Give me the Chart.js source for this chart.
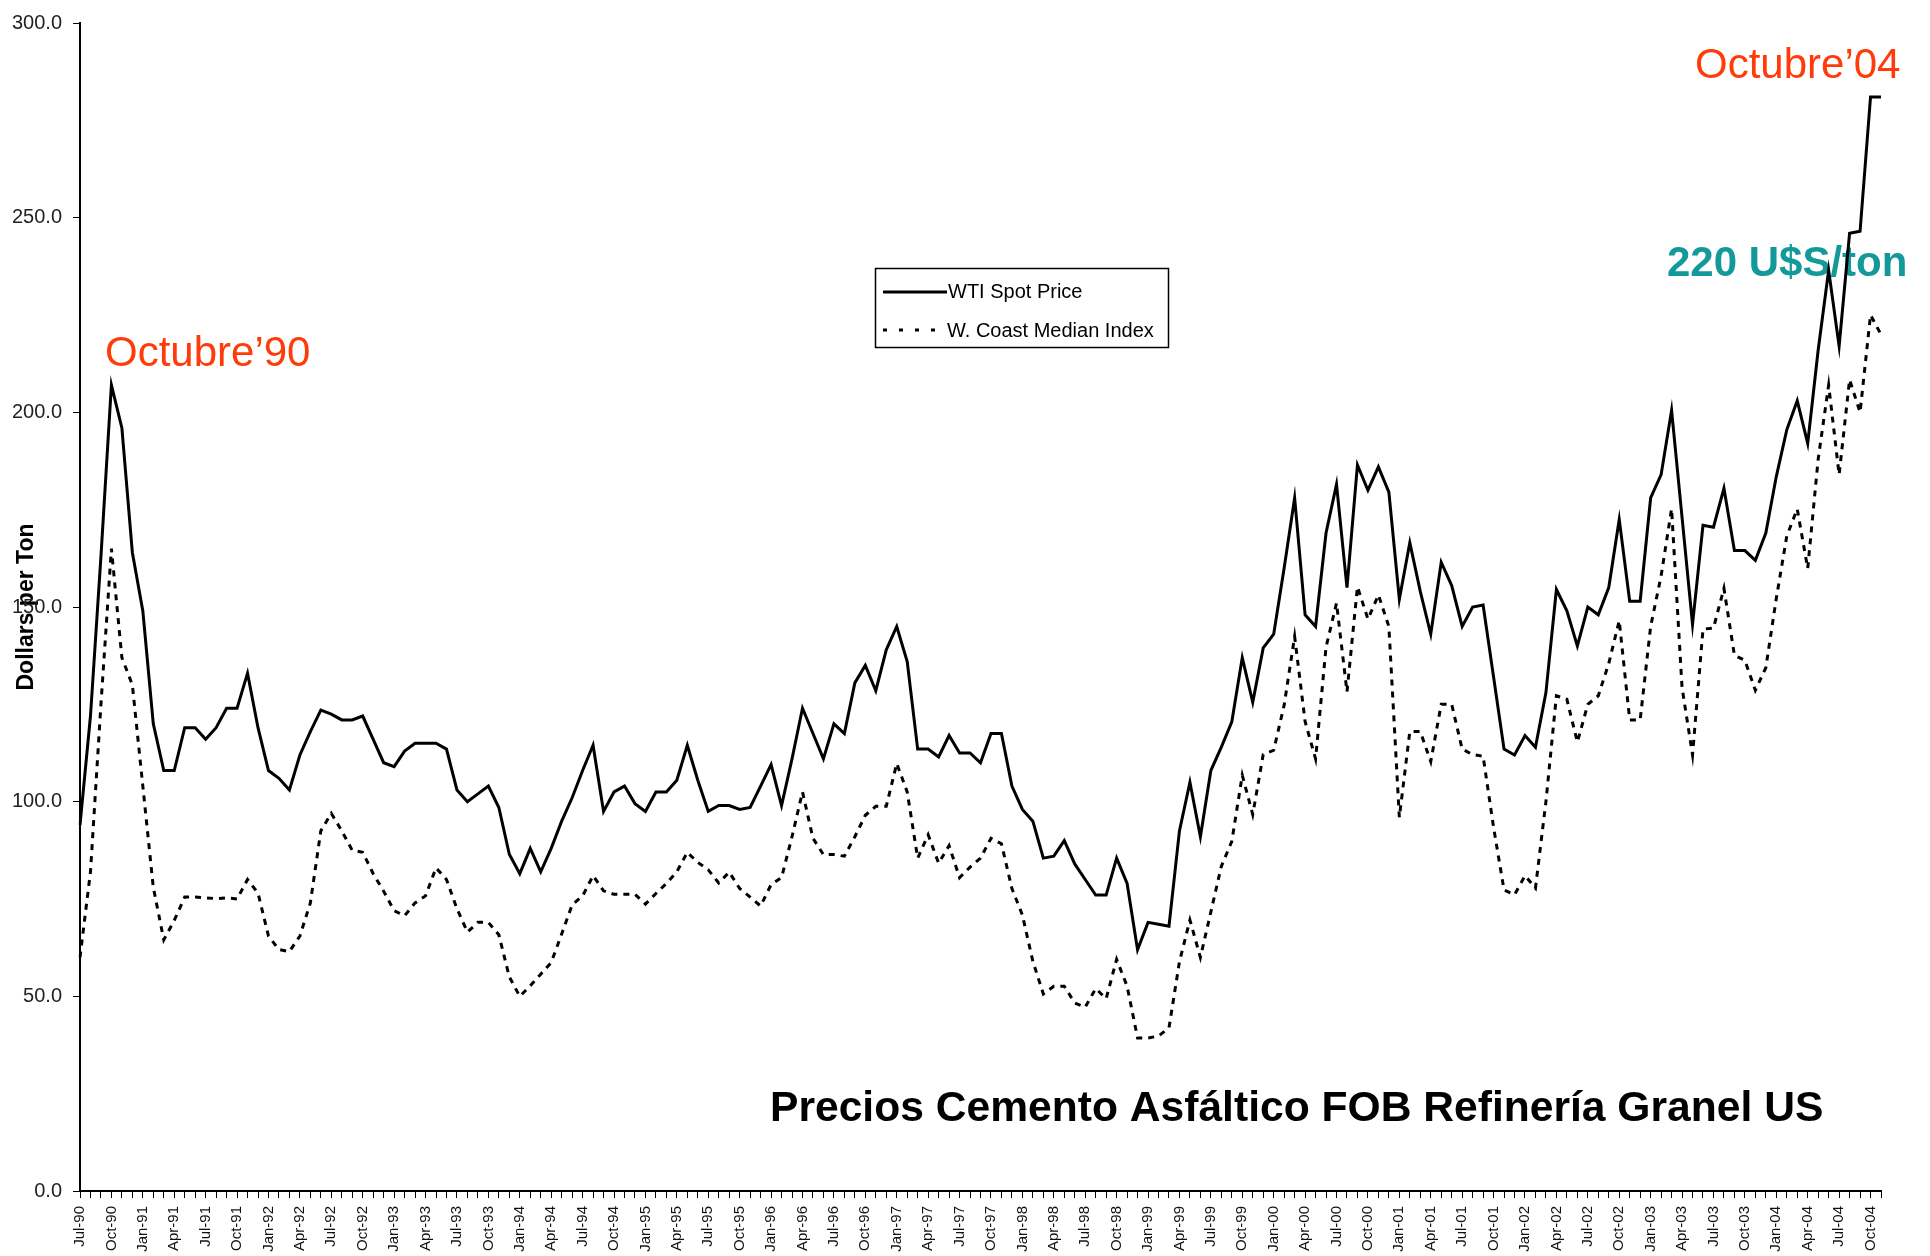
<!DOCTYPE html>
<html lang="es">
<head>
<meta charset="utf-8">
<title>Precios Cemento Asfáltico FOB Refinería Granel US</title>
<script src="https://cdn.jsdelivr.net/npm/chart.js@4.4.1/dist/chart.umd.min.js"></script>
<style>
  html, body { margin: 0; padding: 0; background: #fff; }
  canvas { display: block; }
</style>
</head>
<body>
<canvas id="grafico" width="1930" height="1256"></canvas>
<script>
// Meses de julio 1990 a noviembre 2004 (se rotula uno de cada tres)
var nombresMes = ['Jan', 'Feb', 'Mar', 'Apr', 'May', 'Jun', 'Jul', 'Aug', 'Sep', 'Oct', 'Nov', 'Dec'];
var meses = [];
for (var k = 0; k < 173; k++) {
    var m = (6 + k) % 12;
    var anio = (90 + Math.floor((6 + k) / 12)) % 100;
    meses.push(nombresMes[m] + '-' + String(anio).padStart(2, '0'));
}

// WTI Spot Price, dólares por tonelada
var wtiSpot = [
    94, 122, 163, 207, 196, 164, 149, 120, 108, 108, 119, 119,
    116, 119, 124, 124, 133, 119, 108, 106, 103, 112, 118, 123.5,
    122.5, 121, 121, 122, 116, 110, 109, 113, 115, 115, 115, 113.5,
    103, 100, 102, 104, 98.5, 86.5, 81.5, 88, 82, 88, 95, 101,
    108, 114.5, 97.5, 102.5, 104, 99.5, 97.5, 102.5, 102.5, 105.5, 114.5, 105.5,
    97.5, 99, 99, 98, 98.5, 104, 109.5, 99, 111, 124, 117.5, 111,
    120, 117.5, 130.5, 135, 128.5, 139, 145, 136, 113.5, 113.5, 111.5, 117,
    112.5, 112.5, 110, 117.5, 117.5, 104, 98, 95, 85.5, 86, 90, 84,
    80, 76, 76, 85.5, 79, 62, 69, 68.5, 68, 92.5, 105, 91,
    108, 114, 120.5, 137, 125.5, 139.5, 143, 160, 178, 148, 145, 169,
    181.5, 155, 186.5, 180, 186, 179.5, 152, 166.5, 154, 143, 161.5, 155.5,
    145, 150, 150.5, 132, 113.5, 112, 117, 114, 128, 154.5, 149, 140,
    150, 148, 155, 172.5, 151.5, 151.5, 178, 184, 200.5, 173, 145.5, 171,
    170.5, 180.5, 164.5, 164.5, 162, 169, 183.5, 195.5, 203, 192, 216, 236.5,
    217, 246, 246.5, 281, 281
];

// W. Coast Median Index, dólares por tonelada
var coastMedian = [
    60, 82, 125, 165, 137, 130, 104, 78, 64.5, 69.5, 75.5, 75.5,
    75.3, 75.1, 75.3, 75, 80, 76.5, 65.5, 62, 61.5, 65.5, 74, 92.5,
    97, 92.5, 87.5, 87, 81.5, 77, 72, 70.7, 74, 75.8, 83, 80,
    72.5, 66.5, 69, 69, 65.8, 55, 50, 52.7, 55.7, 58.7, 66, 73.5,
    75.8, 81, 77.1, 76.2, 76.2, 76.2, 73.7, 76.4, 79, 82, 87, 84.4,
    82.5, 79.1, 81.9, 77.7, 75.5, 73.2, 78.7, 80.5, 91, 102.5, 90.6, 86.4,
    86.4, 86, 91, 96.5, 98.8, 98.8, 109.8, 102.5, 85.5, 91.5, 84.2, 88.7,
    80.5, 83.2, 85.5, 90.6, 89.2, 77.7, 70.9, 59, 50.6, 52.6, 52.6, 48.3,
    47.2, 52, 49.4, 59.5, 52.6, 39.3, 39.3, 39.8, 41.9, 58.9, 69.6, 60,
    71.7, 83.4, 89.8, 106.8, 96.7, 112.1, 113.2, 124.8, 142.4, 120.6, 111, 139.7,
    151, 128.2, 155.2, 146.9, 153.1, 145, 96, 118, 118, 110.3, 125, 125,
    113.5, 112.1, 111.7, 93.4, 77.3, 76.1, 81, 77.8, 100, 127.2, 126.3, 115.3,
    125, 127.2, 135.5, 146.5, 121, 121, 145, 158, 175.2, 129.3, 112, 144.3,
    144.6, 154.8, 137.6, 136.3, 128.6, 134.4, 152.2, 168.2, 175.2, 159.9, 188, 207,
    184, 208.4, 200, 225, 220
];

var marcasY = [0, 50, 100, 150, 200, 250, 300];

var fuente = '"Liberation Sans", Arial, sans-serif';

// Textos sobre el gráfico (por debajo de las líneas)
var textos = {
    id: 'textos',
    beforeDatasetsDraw: function (chart) {
        var ctx = chart.ctx;
        ctx.save();
        ctx.textAlign = 'left';
        ctx.textBaseline = 'alphabetic';
        ctx.font = '42px ' + fuente;
        ctx.fillStyle = '#ff3b0a';
        ctx.fillText('Octubre\u201990', 105, 366);
        ctx.fillText('Octubre\u201904', 1695, 78);
        ctx.font = 'bold 42px ' + fuente;
        ctx.fillStyle = '#14999a';
        ctx.fillText('220 U$S/ton', 1667, 276);
        ctx.font = 'bold 42.6px ' + fuente;
        ctx.fillStyle = '#000';
        ctx.fillText('Precios Cemento Asfáltico FOB Refinería Granel US', 770, 1121);
        ctx.restore();
    }
};

// Leyenda en recuadro dentro del área del gráfico
var leyenda = {
    id: 'leyenda',
    afterDraw: function (chart) {
        var ctx = chart.ctx;
        var sets = chart.data.datasets;
        ctx.save();
        ctx.fillStyle = '#fff';
        ctx.fillRect(875, 268, 293, 79);
        ctx.strokeStyle = '#000';
        ctx.lineWidth = 1.5;
        ctx.strokeRect(875.5, 268.5, 293, 79);

        ctx.lineWidth = 3;
        ctx.beginPath();
        ctx.moveTo(883, 292);
        ctx.lineTo(947, 292);
        ctx.stroke();
        ctx.setLineDash([4, 12]);
        ctx.beginPath();
        ctx.moveTo(883, 330);
        ctx.lineTo(947, 330);
        ctx.stroke();
        ctx.setLineDash([]);

        ctx.fillStyle = '#000';
        ctx.font = '20px ' + fuente;
        ctx.textBaseline = 'alphabetic';
        ctx.fillText(sets[0].label, 948, 298);
        ctx.fillText(sets[1].label, 947, 337);
        ctx.restore();
    }
};

var ctx = document.getElementById('grafico').getContext('2d');
var grafico = new Chart(ctx, {
    type: 'line',
    data: {
        labels: meses,
        datasets: [{
            label: 'WTI Spot Price',
            data: wtiSpot,
            borderColor: '#000',
            borderWidth: 3,
            pointRadius: 0,
            tension: 0,
            fill: false
        }, {
            label: 'W. Coast Median Index',
            data: coastMedian,
            borderColor: '#000',
            borderWidth: 3,
            borderDash: [6, 6],
            pointRadius: 0,
            tension: 0,
            fill: false
        }]
    },
    options: {
        responsive: false,
        maintainAspectRatio: false,
        devicePixelRatio: 1,
        animation: false,
        events: [],
        layout: {
            padding: { top: 19, right: 49, bottom: 0, left: 0 }
        },
        plugins: {
            legend: { display: false },
            tooltip: { enabled: false }
        },
        scales: {
            x: {
                type: 'category',
                offset: false,
                afterFit: function (scale) { scale.height = 65; },
                grid: {
                    display: true,
                    drawOnChartArea: false,
                    drawTicks: true,
                    tickLength: 7,
                    color: '#000',
                    lineWidth: 1
                },
                border: { display: true, color: '#000', width: 2 },
                ticks: {
                    autoSkip: false,
                    maxRotation: 90,
                    minRotation: 90,
                    padding: 8,
                    color: '#111',
                    font: { family: fuente, size: 15 },
                    callback: function (valor, i) {
                        return i % 3 === 0 ? meses[i] : '';
                    }
                }
            },
            y: {
                min: 0,
                max: 300,
                afterFit: function (scale) { scale.width = 80; },
                afterBuildTicks: function (scale) {
                    scale.ticks = marcasY.map(function (v) { return { value: v }; });
                },
                grid: {
                    display: true,
                    drawOnChartArea: false,
                    drawTicks: true,
                    tickLength: 7,
                    color: '#000',
                    lineWidth: 1
                },
                border: { display: true, color: '#000', width: 2 },
                ticks: {
                    padding: 11,
                    color: '#222',
                    font: { family: fuente, size: 20 },
                    callback: function (valor) { return Number(valor).toFixed(1); }
                },
                title: {
                    display: true,
                    text: 'Dollars per Ton',
                    color: '#000',
                    font: { family: fuente, size: 23, weight: 'bold' },
                    padding: { top: 13, bottom: 0 }
                }
            }
        }
    },
    plugins: [textos, leyenda]
});
</script>
</body>
</html>
